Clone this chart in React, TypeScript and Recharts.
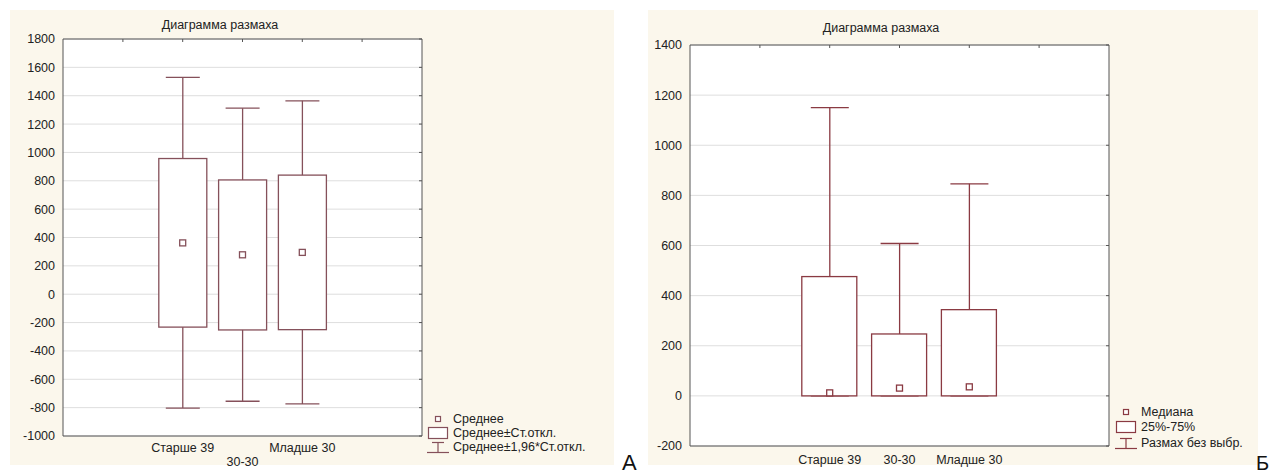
import React from 'react';
import { ComposedChart, Bar, Scatter, XAxis, YAxis, CartesianGrid } from 'recharts';

const FONT = '"Liberation Sans", Arial, sans-serif';
const groups = ['Старше 39', '30-30', 'Младше 30'];

// Panel A: mean, mean ± SD, mean ± 1.96*SD
const meanA = [362, 278, 295];
const sdLowA = [-232, -252, -250];
const sdHighA = [957, 806, 840];
const sd196LowA = [-803, -755, -774];
const sd196HighA = [1530, 1312, 1364];
const yTicksA = [-1000, -800, -600, -400, -200, 0, 200, 400, 600, 800, 1000, 1200, 1400, 1600, 1800];

// Panel B: median, 25%-75%, range without outliers
const medianB = [12, 31, 36];
const q25B = [0, 0, 0];
const q75B = [476, 247, 344];
const minB = [0, 0, 0];
const maxB = [1150, 608, 846];
const yTicksB = [-200, 0, 200, 400, 600, 800, 1000, 1200, 1400];

const legendA = ['Среднее', 'Среднее±Ст.откл.', 'Среднее±1,96*Ст.откл.'];
const legendB = ['Медиана', '25%-75%', 'Размах без выбр.'];

type Row = { name: string; center?: number; box?: number[]; wh?: number[] };

const buildRows = (center: number[], lo: number[], hi: number[], wlo: number[], whi: number[]): Row[] => [
  { name: '_l' },
  ...groups.map((g, i) => ({ name: g, center: center[i], box: [lo[i], hi[i]], wh: [wlo[i], whi[i]] })),
  { name: '_r' },
];

const rowsA = buildRows(meanA, sdLowA, sdHighA, sd196LowA, sd196HighA);
const rowsB = buildRows(medianB, q25B, q75B, minB, maxB);

const Empty = () => <g />;

const XTick = (props: any) => {
  const { x, y, payload, lowLabel, dy, dyLow } = props;
  const v = String(payload.value);
  if (v.startsWith('_')) return <g />;
  const low = lowLabel === v;
  return (
    <text x={x} y={y} dy={low ? dyLow : dy} textAnchor="middle" fontSize={12.5} fill="#222" fontFamily={FONT}>
      {v}
    </text>
  );
};

interface BoxChartProps {
  rows: Row[];
  ticks: number[];
  width: number;
  height: number;
  margin: { top: number; right: number; bottom: number; left: number };
  yWidth: number;
  xHeight: number;
  pad: number;
  boxSize: number;
  capSize: number;
  color: string;
  lowLabel?: string;
  dy: number;
  dyLow: number;
}

const BoxChart: React.FC<BoxChartProps> = ({ rows, ticks, width, height, margin, yWidth, xHeight, pad, boxSize, capSize, color, lowLabel, dy, dyLow }) => {
  const domain = [ticks[0], ticks[ticks.length - 1]];
  return (
    <ComposedChart width={width} height={height} data={rows} margin={margin}>
      <CartesianGrid vertical={false} stroke="#dedede" fill="#ffffff" />
      <XAxis
        dataKey="name"
        padding={{ left: pad, right: pad }}
        axisLine={{ stroke: '#555' }}
        tickLine={false}
        tickSize={0}
        tickMargin={4}
        height={xHeight}
        interval={0}
        tick={(p: any) => <XTick {...p} lowLabel={lowLabel} dy={dy} dyLow={dyLow} />}
      />
      <XAxis
        xAxisId="top"
        orientation="top"
        mirror
        dataKey="name"
        padding={{ left: pad, right: pad }}
        axisLine={{ stroke: '#555' }}
        tickLine={{ stroke: '#555' }}
        tickSize={3}
        interval={0}
        tick={Empty}
      />
      <YAxis
        domain={domain}
        ticks={ticks}
        type="number"
        allowDataOverflow
        width={yWidth}
        axisLine={{ stroke: '#555' }}
        tickLine={false}
        tickSize={0}
        tickMargin={8}
        interval={0}
        tick={{ fontSize: 12.5, fill: '#222', fontFamily: FONT }}
      />
      <YAxis
        yAxisId="r"
        orientation="right"
        mirror
        domain={domain}
        ticks={ticks}
        type="number"
        allowDataOverflow
        axisLine={{ stroke: '#555' }}
        tickLine={{ stroke: '#555' }}
        tickSize={3}
        interval={0}
        tick={Empty}
      />
      <Bar
        xAxisId="top"
        yAxisId="r"
        dataKey="wh"
        barSize={capSize}
        isAnimationActive={false}
        shape={(p: any) => {
          if (!p.payload || !p.payload.wh) return <g />;
          const top = Math.min(p.y, p.y + p.height);
          const bot = Math.max(p.y, p.y + p.height);
          const cx = p.x + p.width / 2;
          return (
            <g stroke={color} strokeWidth={1.3}>
              <line x1={cx} x2={cx} y1={top} y2={bot} />
              <line x1={p.x} x2={p.x + p.width} y1={top} y2={top} />
              <line x1={p.x} x2={p.x + p.width} y1={bot} y2={bot} />
            </g>
          );
        }}
      />
      <Bar
        dataKey="box"
        barSize={boxSize}
        isAnimationActive={false}
        shape={(p: any) => {
          if (!p.payload || !p.payload.box) return <g />;
          const top = Math.min(p.y, p.y + p.height);
          const h = Math.abs(p.height);
          return <rect x={p.x} y={top} width={p.width} height={h} fill="#fff" stroke={color} strokeWidth={1.3} />;
        }}
      />
      <Scatter
        dataKey="center"
        isAnimationActive={false}
        shape={(p: any) => {
          if (!p.payload || p.payload.center == null) return <g />;
          return <rect x={p.cx - 3} y={p.cy - 3} width={6} height={6} fill="#fff" stroke={color} strokeWidth={1.3} />;
        }}
      />
    </ComposedChart>
  );
};

const LegendIcon: React.FC<{ kind: number; color: string }> = ({ kind, color }) => (
  <svg width={24} height={14} style={{ display: 'block' }}>
    {kind === 0 && <rect x={9.5} y={4.5} width={5} height={5} fill="#fff" stroke={color} strokeWidth={1.2} />}
    {kind === 1 && <rect x={2.5} y={1.5} width={19} height={11} fill="#fff" stroke={color} strokeWidth={1.2} />}
    {kind === 2 && (
      <g stroke={color} strokeWidth={1.2}>
        <line x1={6} x2={18} y1={2.5} y2={2.5} />
        <line x1={12} x2={12} y1={2.5} y2={12.5} />
        <line x1={1} x2={23} y1={12.5} y2={12.5} />
      </g>
    )}
  </svg>
);

const LegendBox: React.FC<{ items: string[]; left: number; top: number; color: string; row: number }> = ({ items, left, top, color, row }) => (
  <div style={{ position: 'absolute', left, top, fontFamily: FONT, fontSize: 12.5, color: '#222', lineHeight: '14px' }}>
    {items.map((t, i) => (
      <div key={t} style={{ display: 'flex', alignItems: 'center', height: row }}>
        <LegendIcon kind={i} color={color} />
        <span style={{ marginLeft: 3, whiteSpace: 'nowrap' }}>{t}</span>
      </div>
    ))}
  </div>
);

const Title: React.FC<{ cx: number; cy: number }> = ({ cx, cy }) => (
  <div
    style={{
      position: 'absolute',
      left: cx - 100,
      top: cy - 8,
      width: 200,
      textAlign: 'center',
      fontFamily: FONT,
      fontSize: 12.5,
      color: '#222',
      lineHeight: '16px',
    }}
  >
    Диаграмма размаха
  </div>
);

const App: React.FC = () => {
  return (
    <div style={{ position: 'absolute', left: 0, top: 0, width: 1271, height: 474, background: '#fff', overflow: 'hidden' }}>
      <div style={{ position: 'absolute', left: 10, top: 10, width: 604, height: 455, background: '#fbf7ec' }} />
      <div style={{ position: 'absolute', left: 648, top: 10, width: 610, height: 455, background: '#fbf7ec' }} />

      <Title cx={220} cy={25} />
      <Title cx={881} cy={28} />

      <div style={{ position: 'absolute', left: 0, top: 0 }}>
        <BoxChart
          rows={rowsA}
          ticks={yTicksA}
          width={640}
          height={474}
          margin={{ top: 39, right: 218, bottom: 8, left: 13 }}
          yWidth={50}
          xHeight={30}
          pad={30}
          boxSize={48}
          capSize={34}
          color="#85505a"
          lowLabel="30-30"
          dy={11.5}
          dyLow={25.5}
        />
      </div>
      <div style={{ position: 'absolute', left: 640, top: 0 }}>
        <BoxChart
          rows={rowsB}
          ticks={yTicksB}
          width={631}
          height={474}
          margin={{ top: 45, right: 162, bottom: 8, left: 10 }}
          yWidth={40}
          xHeight={20}
          pad={35}
          boxSize={55}
          capSize={38}
          color="#8a3a42"
          dy={13.5}
          dyLow={13.5}
        />
      </div>

      <LegendBox items={legendA} left={426} top={412} color="#85505a" row={14} />
      <LegendBox items={legendB} left={1114} top={404} color="#8a3a42" row={15.5} />

      <div style={{ position: 'absolute', left: 622, top: 452, fontFamily: FONT, fontSize: 22, color: '#111', lineHeight: '22px' }}>A</div>
      <div style={{ position: 'absolute', left: 1256, top: 453, fontFamily: FONT, fontSize: 20, color: '#111', lineHeight: '20px' }}>Б</div>
    </div>
  );
};

export default App;
